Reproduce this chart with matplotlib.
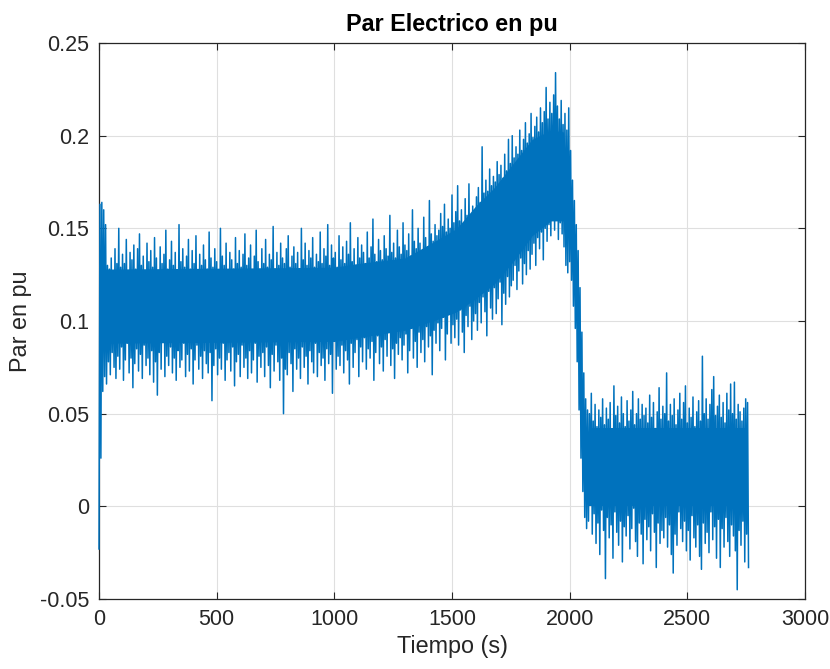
import numpy as np
import matplotlib
matplotlib.use("Agg")
import matplotlib.pyplot as plt

# ---- data (sample step 4 s, alternating troughs/peaks) ----
dt_s = 4.0
par_pu = [
    # 0 - 76 s
    -0.023, 0.163, 0.026, 0.164, 0.062, 0.160, 0.070, 0.152, 0.066, 0.130,
    0.078, 0.128, 0.071, 0.134, 0.083, 0.127, 0.075, 0.139, 0.069, 0.131,
    # 80 - 156 s
    0.081, 0.150, 0.074, 0.129, 0.086, 0.136, 0.068, 0.131, 0.079, 0.144,
    0.088, 0.126, 0.072, 0.137, 0.080, 0.133, 0.064, 0.141, 0.077, 0.128,
    # 160 - 236 s
    0.085, 0.139, 0.073, 0.147, 0.082, 0.130, 0.069, 0.135, 0.087, 0.127,
    0.076, 0.142, 0.080, 0.132, 0.071, 0.138, 0.084, 0.129, 0.067, 0.145,
    # 240 - 316 s
    0.078, 0.134, 0.060, 0.127, 0.083, 0.140, 0.074, 0.131, 0.089, 0.136,
    0.070, 0.149, 0.081, 0.128, 0.076, 0.133, 0.086, 0.143, 0.072, 0.130,
    # 320 - 396 s
    0.080, 0.137, 0.068, 0.126, 0.084, 0.152, 0.075, 0.132, 0.079, 0.139,
    0.088, 0.129, 0.070, 0.135, 0.082, 0.144, 0.073, 0.128, 0.085, 0.138,
    # 400 - 476 s
    0.066, 0.131, 0.079, 0.146, 0.087, 0.127, 0.074, 0.136, 0.081, 0.130,
    0.069, 0.141, 0.084, 0.133, 0.077, 0.128, 0.072, 0.148, 0.083, 0.134,
    # 480 - 556 s
    0.057, 0.129, 0.076, 0.139, 0.085, 0.132, 0.071, 0.127, 0.080, 0.150,
    0.074, 0.135, 0.088, 0.130, 0.068, 0.142, 0.079, 0.126, 0.083, 0.137,
    # 560 - 636 s
    0.073, 0.133, 0.086, 0.128, 0.065, 0.145, 0.078, 0.131, 0.082, 0.138,
    0.070, 0.129, 0.087, 0.136, 0.075, 0.147, 0.080, 0.130, 0.069, 0.134,
    # 640 - 716 s
    0.084, 0.141, 0.072, 0.127, 0.079, 0.135, 0.088, 0.149, 0.067, 0.132,
    0.081, 0.128, 0.075, 0.139, 0.083, 0.131, 0.070, 0.144, 0.086, 0.129,
    # 720 - 796 s
    0.076, 0.136, 0.064, 0.133, 0.082, 0.151, 0.073, 0.128, 0.087, 0.137,
    0.078, 0.130, 0.068, 0.142, 0.080, 0.134, 0.050, 0.131, 0.074, 0.139,
    # 800 - 876 s
    0.071, 0.146, 0.083, 0.129, 0.077, 0.135, 0.062, 0.140, 0.085, 0.131,
    0.074, 0.137, 0.080, 0.128, 0.069, 0.150, 0.086, 0.133, 0.075, 0.142,
    # 880 - 956 s
    0.081, 0.130, 0.066, 0.138, 0.084, 0.134, 0.078, 0.145, 0.072, 0.129,
    0.088, 0.136, 0.070, 0.132, 0.083, 0.148, 0.076, 0.131, 0.080, 0.139,
    # 960 - 1036 s
    0.068, 0.135, 0.085, 0.152, 0.077, 0.130, 0.082, 0.141, 0.061, 0.134,
    0.089, 0.137, 0.074, 0.129, 0.081, 0.146, 0.076, 0.133, 0.087, 0.140,
    # 1040 - 1116 s
    0.072, 0.131, 0.084, 0.143, 0.079, 0.136, 0.066, 0.153, 0.088, 0.132,
    0.075, 0.139, 0.083, 0.130, 0.090, 0.145, 0.070, 0.134, 0.086, 0.141,
    # 1120 - 1196 s
    0.078, 0.137, 0.091, 0.131, 0.074, 0.148, 0.085, 0.134, 0.080, 0.140,
    0.089, 0.155, 0.068, 0.136, 0.083, 0.132, 0.092, 0.144, 0.077, 0.138,
    # 1200 - 1276 s
    0.086, 0.133, 0.073, 0.146, 0.090, 0.139, 0.081, 0.135, 0.094, 0.157,
    0.076, 0.137, 0.085, 0.142, 0.069, 0.134, 0.088, 0.149, 0.082, 0.140,
    # 1280 - 1356 s
    0.091, 0.136, 0.079, 0.153, 0.087, 0.141, 0.093, 0.138, 0.072, 0.147,
    0.084, 0.135, 0.096, 0.160, 0.080, 0.143, 0.089, 0.139, 0.075, 0.150,
    # 1360 - 1436 s
    0.094, 0.142, 0.083, 0.138, 0.090, 0.156, 0.078, 0.145, 0.097, 0.140,
    0.086, 0.165, 0.092, 0.147, 0.071, 0.143, 0.095, 0.152, 0.088, 0.146,
    # 1440 - 1516 s
    0.099, 0.149, 0.084, 0.158, 0.096, 0.151, 0.102, 0.163, 0.079, 0.148,
    0.093, 0.155, 0.104, 0.150, 0.088, 0.168, 0.098, 0.153, 0.091, 0.159,
    # 1520 - 1596 s
    0.101, 0.173, 0.087, 0.154, 0.106, 0.160, 0.094, 0.152, 0.083, 0.166,
    0.103, 0.157, 0.097, 0.174, 0.108, 0.156, 0.090, 0.162, 0.100, 0.158,
    # 1600 - 1676 s
    0.104, 0.167, 0.095, 0.172, 0.110, 0.164, 0.099, 0.194, 0.113, 0.169,
    0.105, 0.176, 0.092, 0.170, 0.116, 0.182, 0.107, 0.173, 0.101, 0.178,
    # 1680 - 1756 s
    0.118, 0.175, 0.104, 0.186, 0.112, 0.179, 0.121, 0.184, 0.098, 0.177,
    0.115, 0.190, 0.109, 0.181, 0.124, 0.198, 0.113, 0.185, 0.119, 0.200,
    # 1760 - 1836 s
    0.122, 0.188, 0.130, 0.194, 0.117, 0.190, 0.127, 0.203, 0.134, 0.192,
    0.120, 0.198, 0.131, 0.207, 0.125, 0.196, 0.138, 0.201, 0.128, 0.212,
    # 1840 - 1916 s
    0.136, 0.199, 0.142, 0.205, 0.130, 0.210, 0.145, 0.202, 0.139, 0.215,
    0.148, 0.207, 0.133, 0.213, 0.150, 0.226, 0.143, 0.209, 0.152, 0.218,
    # 1920 - 1996 s
    0.146, 0.212, 0.155, 0.222, 0.149, 0.234, 0.157, 0.216, 0.144, 0.209,
    0.153, 0.219, 0.147, 0.206, 0.140, 0.212, 0.130, 0.203, 0.126, 0.215,
    # 2000 - 2076 s (fast drop)
    0.132, 0.192, 0.122, 0.176, 0.108, 0.165, 0.096, 0.152, 0.078, 0.138,
    0.052, 0.118, 0.026, 0.094, 0.008, 0.072, -0.006, 0.058, -0.012, 0.052,
    # 2080 - 2156 s
    -0.008, 0.050, 0.002, 0.061, -0.015, 0.046, -0.004, 0.055, -0.020, 0.043,
    -0.009, 0.052, -0.026, 0.048, -0.002, 0.058, -0.013, 0.044, -0.039, 0.053,
    # 2160 - 2236 s
    -0.006, 0.047, -0.017, 0.056, -0.010, 0.041, -0.028, 0.065, -0.003, 0.049,
    -0.014, 0.054, -0.021, 0.045, -0.008, 0.059, -0.030, 0.050, -0.011, 0.043,
    # 2240 - 2316 s
    -0.016, 0.057, -0.005, 0.046, -0.023, 0.052, -0.012, 0.062, -0.001, 0.044,
    -0.019, 0.050, -0.027, 0.058, -0.009, 0.047, -0.015, 0.055, -0.031, 0.049,
    # 2320 - 2396 s
    -0.007, 0.053, -0.018, 0.045, -0.011, 0.060, -0.024, 0.048, -0.004, 0.056,
    -0.014, 0.042, -0.033, 0.051, -0.009, 0.064, -0.020, 0.047, -0.013, 0.054,
    # 2400 - 2476 s
    -0.017, 0.050, -0.006, 0.072, -0.022, 0.046, -0.010, 0.055, -0.026, 0.049,
    -0.036, 0.058, -0.015, 0.044, -0.021, 0.052, -0.003, 0.061, -0.012, 0.047,
    # 2480 - 2556 s
    -0.019, 0.056, -0.008, 0.065, -0.024, 0.045, -0.013, 0.053, -0.029, 0.048,
    -0.005, 0.059, -0.017, 0.043, -0.022, 0.051, -0.010, 0.057, -0.027, 0.046,
    # 2560 - 2636 s
    -0.034, 0.081, -0.009, 0.050, -0.020, 0.058, -0.014, 0.047, -0.025, 0.055,
    -0.003, 0.063, -0.018, 0.070, -0.011, 0.049, -0.028, 0.054, -0.007, 0.060,
    # 2640 - 2716 s
    -0.033, 0.048, -0.012, 0.056, -0.022, 0.045, -0.006, 0.061, -0.019, 0.052,
    -0.027, 0.066, -0.010, 0.050, -0.016, 0.067, -0.024, 0.047, -0.045, 0.055,
    # 2720 - 2760 s
    -0.013, 0.051, -0.021, 0.046, -0.008, 0.053, -0.030, 0.058, -0.015, 0.056,
    -0.033,
]
tiempo_s = np.arange(len(par_pu)) * dt_s

# solid inner core of the noise band, before and after the drop
core1_t =      [8,     1000,  1100,  1300,  1440,  1520,  1600,  1680,  1760,  1840,  1920,  1975]
core1_bottom = [0.088, 0.089, 0.091, 0.095, 0.101, 0.105, 0.112, 0.120, 0.132, 0.146, 0.154, 0.154]
core1_top =    [0.128, 0.129, 0.131, 0.134, 0.144, 0.150, 0.162, 0.172, 0.185, 0.198, 0.203, 0.202]
core2_t =      [2084,  2756]
core2_bottom = [0.000, 0.000]
core2_top =    [0.042, 0.042]

x_ticks = [0, 500, 1000, 1500, 2000, 2500, 3000]
x_tick_labels = ["0", "500", "1000", "1500", "2000", "2500", "3000"]
y_ticks = [-0.05, 0, 0.05, 0.1, 0.15, 0.2, 0.25]
y_tick_labels = ["-0.05", "0", "0.05", "0.1", "0.15", "0.2", "0.25"]

title_text = "Par Electrico en pu"
x_label = "Tiempo (s)"
y_label = "Par en pu"

# ---- figure ----
plt.rcParams['font.family'] = ['Liberation Sans', 'DejaVu Sans']
W, H = 830, 669
fig = plt.figure(figsize=(W / 100, H / 100), dpi=100)
ax = fig.add_axes([99 / W, 1 - 599 / H, 706 / W, 556 / H])

blue = '#0072BD'
ax.fill_between(core1_t, core1_bottom, core1_top, color=blue, lw=0, zorder=2.8)
ax.fill_between(core2_t, core2_bottom, core2_top, color=blue, lw=0, zorder=2.8)
ax.plot(tiempo_s, par_pu, color=blue, lw=1.1, zorder=3, clip_on=False)

ax.set_xlim(0, 3000)
ax.set_ylim(-0.05, 0.25)
ax.set_xticks(x_ticks)
ax.set_xticklabels(x_tick_labels)
ax.set_yticks(y_ticks)
ax.set_yticklabels(y_tick_labels)

ax.grid(True, color='#dfdfdf', lw=0.8)
ax.set_axisbelow(True)
for s in ax.spines.values():
    s.set_color('#262626')
    s.set_linewidth(0.9)
ax.tick_params(direction='in', length=5, width=0.8, colors='#262626',
               labelsize=15.5, top=True, right=True, pad=7)

ax.set_title(title_text, fontsize=16.8, fontweight='bold', color='black', pad=9)
ax.set_xlabel(x_label, fontsize=16.8, color='#262626', labelpad=4)
ax.set_ylabel(y_label, fontsize=16.8, color='#262626', labelpad=6)

fig.savefig('out.png', dpi=100)
